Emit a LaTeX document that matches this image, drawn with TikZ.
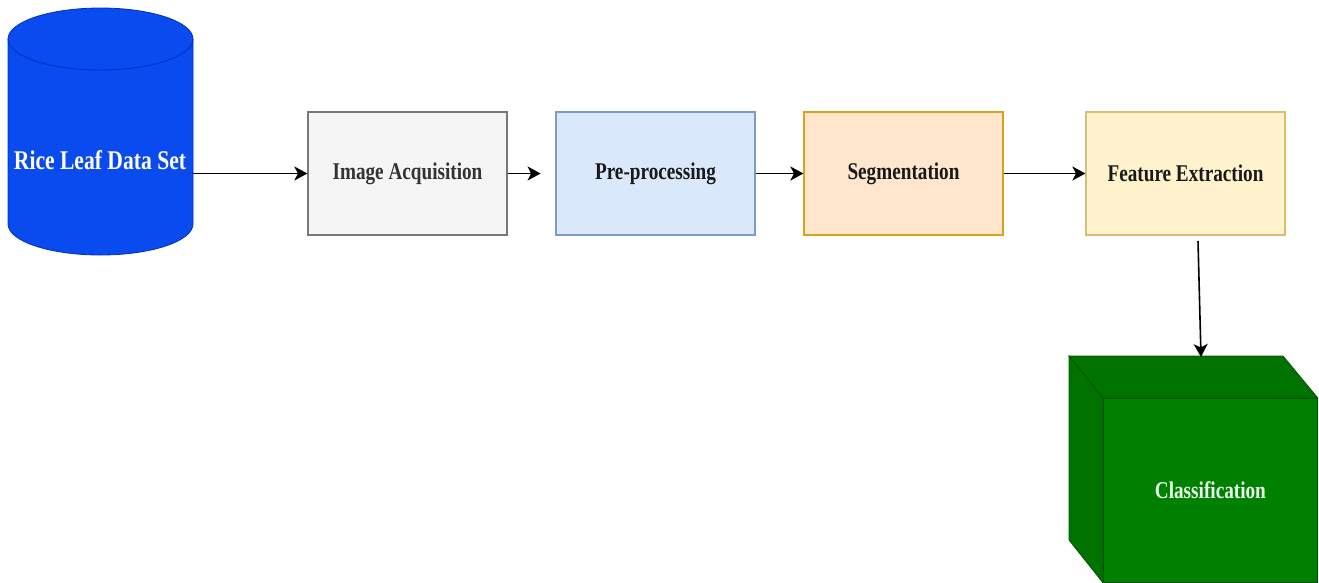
\documentclass[tikz,border=0pt]{standalone}
\usepackage{fontspec}
\setmainfont{Liberation Serif}[FakeStretch=0.8]
\usetikzlibrary{arrows.meta,positioning,shapes.geometric}
\definecolor{hengerkek}{HTML}{0A4BF0}
\definecolor{hengerel}{HTML}{0030C0}
\definecolor{szurke}{HTML}{F5F5F5}
\definecolor{szurkeel}{HTML}{777777}
\definecolor{kek}{HTML}{DAE8FC}
\definecolor{kekel}{HTML}{7C9CC8}
\definecolor{narancs}{HTML}{FFE6CC}
\definecolor{narancsel}{HTML}{D9A21E}
\definecolor{sarga}{HTML}{FFF2CC}
\definecolor{sargael}{HTML}{D8BE70}
\definecolor{zold}{HTML}{008000}
\definecolor{zoldsot}{HTML}{007200}
\definecolor{zoldel}{HTML}{005500}
\tikzset{
  blokk/.style={draw,line width=1.2pt,minimum width=199pt,minimum height=123pt,
    inner sep=0pt,font=\fontsize{24}{28}\selectfont\bfseries},
  mutat/.style={-{Stealth[length=13pt,width=14pt,inset=3.5pt]},line width=1.6pt},
}
\begin{document}
\begin{tikzpicture}[x=1pt,y=-1pt]
  \useasboundingbox (0,0) rectangle (1319,582);
  % henger
  \node[minimum width=185pt,minimum height=247pt,inner sep=0pt] (adat) at (100.5,131.5) {};
  \draw[draw=hengerel,fill=hengerkek,line width=0.8pt] (8,39) -- (8,224)
    arc[start angle=180,end angle=0,x radius=92.5,y radius=31] -- (193,39)
    arc[start angle=0,end angle=-180,x radius=92.5,y radius=31] -- cycle;
  \draw[draw=hengerel,line width=0.8pt] (8,39)
    arc[start angle=180,end angle=0,x radius=92.5,y radius=31];
  \node[font=\fontsize{27}{30}\selectfont\bfseries,text=white] (adatcim) at (100,160) {Rice Leaf Data Set};
  \node[blokk,draw=szurkeel,fill=szurke,text=black!80] (kep) at (407.5,173.5) {Image Acquisition};
  \node[blokk,draw=kekel,fill=kek,text=black!90] (elo) at (655.5,173.5) {Pre-processing};
  \node[blokk,draw=narancsel,fill=narancs,text=black!90] (szeg) at (903.5,173.5) {Segmentation};
  \node[blokk,draw=sargael,fill=sarga,text=black!90] (jell) at (1185.5,173.5) {Feature Extraction};
  % kocka: elolap, teteje, bal oldala
  \node[draw=zoldel,fill=zold,line width=0.8pt,minimum width=214pt,minimum height=184pt,
    anchor=north west,inner sep=0pt] (oszt) at (1103,398) {};
  \draw[draw=zoldel,fill=zoldsot,line width=0.8pt] (oszt.north west) -- ++(-34,-42) -- ++(214,0)
    -- (oszt.north east) -- cycle;
  \draw[draw=zoldel,fill=zoldsot,line width=0.8pt] (oszt.north west) -- ++(-34,-42) -- ++(0,184)
    -- (oszt.south west) -- cycle;
  \node[font=\fontsize{24}{28}\selectfont\bfseries,text=green!8!white] (osztcim) at (oszt.center) {Classification};
  \coordinate (jellki) at (1198,241);
  \coordinate (osztbe) at (1201,357);
  \draw[mutat] (adat.east |- kep.west) -- (kep.west);
  \draw[mutat] (kep.east) -- ++(33,0);
  \draw[mutat] (elo.east) -- (szeg.west);
  \draw[mutat] (szeg.east) -- (jell.west);
  \draw[mutat] (jellki) -- (osztbe);
\end{tikzpicture}
\end{document}
